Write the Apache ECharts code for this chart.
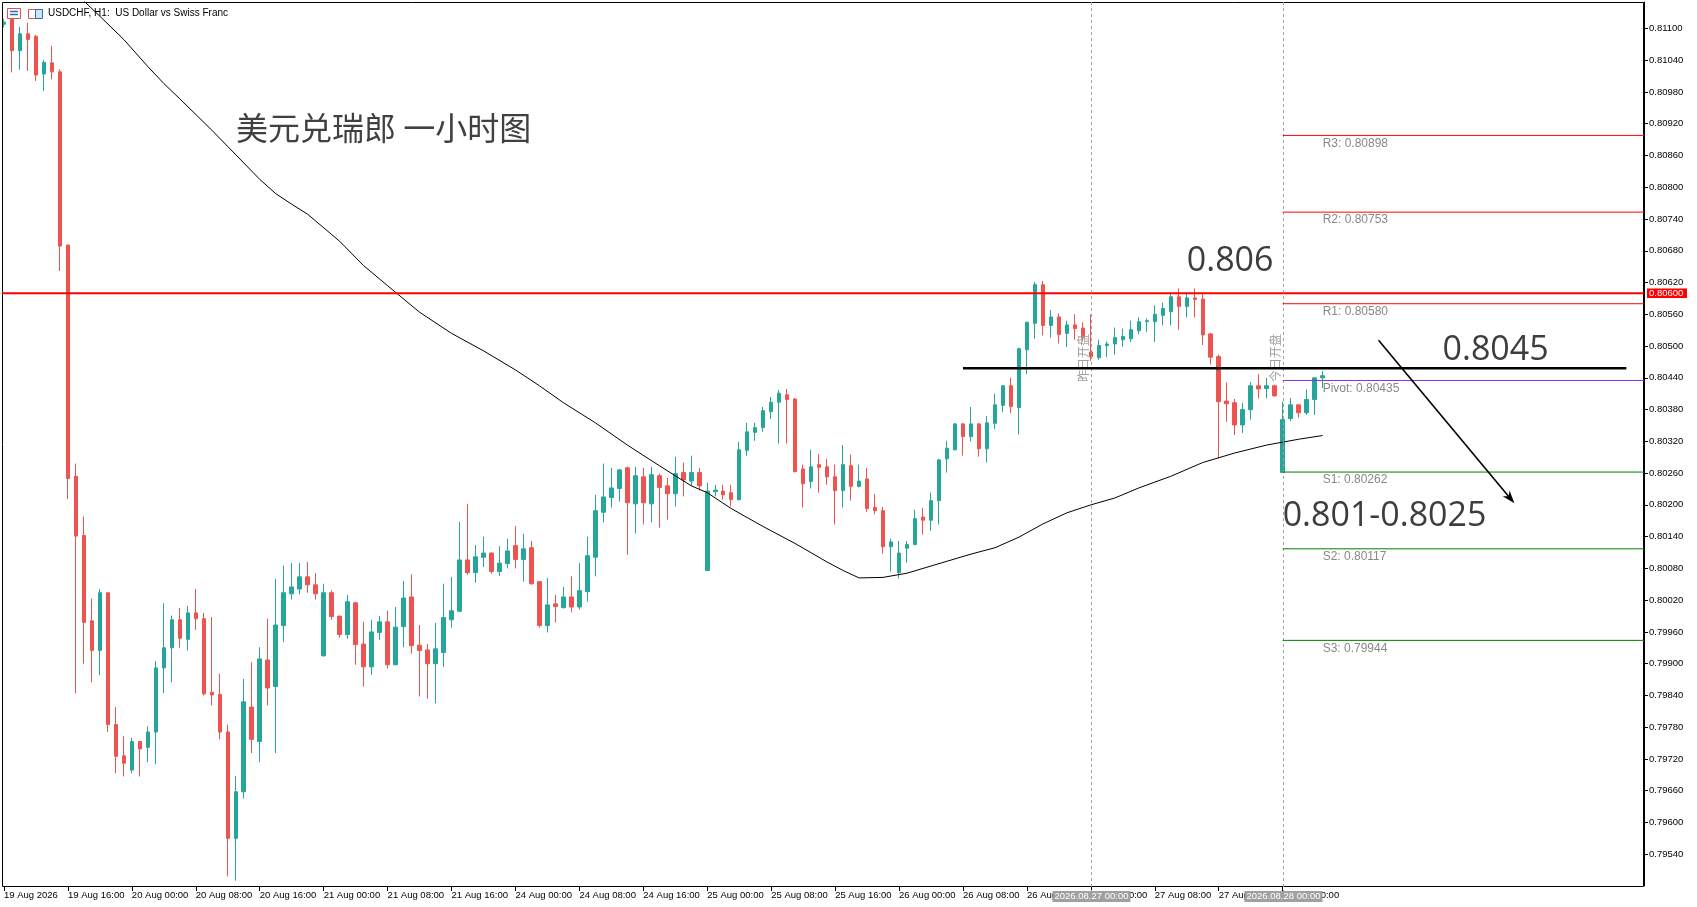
<!DOCTYPE html>
<html><head><meta charset="utf-8">
<script src="https://cdn.jsdelivr.net/npm/echarts@6/dist/echarts.min.js"></script>
<style>html,body{margin:0;padding:0;background:#fff;overflow:hidden}#c{width:1697px;height:907px}</style>
</head><body><div id="c"></div><script>
// ---------- DATA ----------
const symbolTitle = 'USDCHF, H1:  US Dollar vs Swiss Franc';
const chartTitle = '美元兑瑞郎 一小时图';
const opens = [0.81108,0.81117,0.81058,0.81090,0.81085,0.81014,0.81035,0.81018,0.80691,0.80254,
0.80142,0.79981,0.79925,0.80034,0.79785,0.79726,0.79699,0.79753,0.79742,0.79771,
0.79892,0.79930,0.79983,0.79946,0.79996,0.79985,0.79846,0.79842,0.79771,0.79570,
0.79658,0.79818,0.79753,0.79907,0.79857,0.79972,0.80032,0.80041,0.80064,0.80049,
0.79915,0.80034,0.79990,0.79955,0.80015,0.79937,0.79894,0.79959,0.79979,0.79898,
0.79970,0.80026,0.79935,0.79926,0.79900,0.79921,0.79983,0.79999,0.80096,0.80072,
0.80101,0.80109,0.80074,0.80089,0.80123,0.80097,0.80119,0.80055,0.79972,0.80013,
0.80006,0.80026,0.80007,0.80036,0.80101,0.80186,0.80214,0.80231,0.80270,0.80202,
0.80253,0.80202,0.80255,0.80236,0.80221,0.80261,0.80245,0.80261,0.80076,0.80225,
0.80226,0.80223,0.80210,0.80303,0.80337,0.80346,0.80376,0.80394,0.80408,0.80400,
0.80268,0.80244,0.80276,0.80272,0.80253,0.80227,0.80274,0.80235,0.80249,0.80195,
0.80189,0.80121,0.80072,0.80118,0.80125,0.80177,0.80171,0.80208,0.80287,0.80304,
0.80353,0.80329,0.80353,0.80306,0.80354,0.80388,0.80425,0.80384,0.80493,0.80543,
0.80616,0.80539,0.80555,0.80524,0.80540,0.80534,0.80489,0.80478,0.80501,0.80504,
0.80512,0.80514,0.80529,0.80546,0.80546,0.80558,0.80565,0.80593,0.80575,0.80591,
0.80589,0.80523,0.80480,0.80396,0.80393,0.80351,0.80380,0.80425,0.80420,0.80425,
0.80261,0.80363,0.80389,0.80374,0.80399,0.80440];
const closes = [0.81112,0.81058,0.81090,0.81079,0.81012,0.81036,0.81018,0.80689,0.80250,0.80141,
0.79978,0.79925,0.80034,0.79785,0.79725,0.79712,0.79753,0.79739,0.79771,0.79892,
0.79930,0.79983,0.79948,0.79996,0.79985,0.79843,0.79841,0.79771,0.79570,0.79658,
0.79828,0.79757,0.79909,0.79854,0.79973,0.80034,0.80045,0.80064,0.80049,0.80032,
0.80034,0.79989,0.79955,0.80017,0.79936,0.79894,0.79960,0.79979,0.79898,0.79969,
0.80024,0.79934,0.79925,0.79900,0.79928,0.79987,0.80000,0.80096,0.80072,0.80102,
0.80109,0.80074,0.80090,0.80113,0.80097,0.80117,0.80051,0.79972,0.80011,0.80008,
0.80026,0.80007,0.80038,0.80104,0.80189,0.80215,0.80232,0.80266,0.80204,0.80255,
0.80204,0.80257,0.80233,0.80221,0.80259,0.80247,0.80261,0.80236,0.80226,0.80228,
0.80219,0.80210,0.80304,0.80338,0.80346,0.80378,0.80394,0.80411,0.80399,0.80263,
0.80240,0.80272,0.80271,0.80253,0.80227,0.80276,0.80235,0.80245,0.80193,0.80189,
0.80121,0.80130,0.80109,0.80125,0.80174,0.80171,0.80208,0.80285,0.80307,0.80353,
0.80329,0.80353,0.80306,0.80355,0.80389,0.80425,0.80386,0.80495,0.80545,0.80616,
0.80539,0.80555,0.80522,0.80540,0.80533,0.80516,0.80480,0.80501,0.80504,0.80516,
0.80518,0.80531,0.80546,0.80548,0.80560,0.80571,0.80593,0.80575,0.80591,0.80588,
0.80521,0.80479,0.80395,0.80391,0.80351,0.80380,0.80425,0.80419,0.80425,0.80406,
0.80361,0.80389,0.80374,0.80399,0.80440,0.80444];
const lows = [0.81102,0.81017,0.81022,0.81020,0.81001,0.80982,0.81004,0.80642,0.80211,0.79844,
0.79900,0.79865,0.79878,0.79771,0.79693,0.79687,0.79693,0.79687,0.79714,0.79710,
0.79844,0.79865,0.79930,0.79925,0.79964,0.79840,0.79821,0.79757,0.79498,0.79490,
0.79645,0.79731,0.79714,0.79821,0.79731,0.79941,0.80021,0.80031,0.80034,0.80021,
0.79913,0.79983,0.79949,0.79947,0.79898,0.79857,0.79879,0.79945,0.79891,0.79897,
0.79931,0.79919,0.79838,0.79834,0.79825,0.79894,0.79968,0.79998,0.80068,0.80053,
0.80083,0.80070,0.80066,0.80080,0.80080,0.80055,0.80049,0.79968,0.79959,0.79978,
0.80004,0.79997,0.80002,0.80017,0.80065,0.80167,0.80195,0.80206,0.80106,0.80146,
0.80163,0.80167,0.80157,0.80172,0.80197,0.80216,0.80236,0.80227,0.80075,0.80216,
0.80210,0.80197,0.80208,0.80293,0.80321,0.80338,0.80362,0.80316,0.80316,0.80261,
0.80195,0.80231,0.80223,0.80238,0.80163,0.80195,0.80208,0.80233,0.80187,0.80182,
0.80108,0.80074,0.80061,0.80091,0.80124,0.80144,0.80151,0.80163,0.80261,0.80303,
0.80293,0.80320,0.80291,0.80280,0.80343,0.80375,0.80373,0.80333,0.80447,0.80514,
0.80520,0.80516,0.80505,0.80498,0.80512,0.80509,0.80472,0.80474,0.80479,0.80484,
0.80499,0.80508,0.80523,0.80527,0.80508,0.80539,0.80539,0.80531,0.80554,0.80554,
0.80502,0.80465,0.80288,0.80357,0.80332,0.80336,0.80361,0.80401,0.80401,0.80404,
0.80260,0.80358,0.80365,0.80370,0.80370,0.80421];
const highs = [0.81118,0.81118,0.81103,0.81111,0.81088,0.81040,0.81067,0.81023,0.80691,0.80278,
0.80178,0.80023,0.80041,0.80034,0.79818,0.79763,0.79760,0.79753,0.79782,0.79905,
0.80014,0.79991,0.80005,0.80009,0.80041,0.79996,0.79988,0.79881,0.79785,0.79688,
0.79871,0.79903,0.79931,0.79985,0.80060,0.80085,0.80090,0.80090,0.80092,0.80071,
0.80051,0.80039,0.79990,0.80030,0.80017,0.79979,0.79983,0.79990,0.80000,0.80007,
0.80056,0.80069,0.79973,0.79937,0.79977,0.80051,0.80064,0.80168,0.80202,0.80124,
0.80140,0.80110,0.80122,0.80136,0.80160,0.80145,0.80132,0.80056,0.80062,0.80030,
0.80045,0.80065,0.80090,0.80140,0.80219,0.80278,0.80270,0.80268,0.80272,0.80272,
0.80270,0.80272,0.80259,0.80251,0.80291,0.80280,0.80293,0.80270,0.80242,0.80238,
0.80238,0.80238,0.80319,0.80355,0.80355,0.80385,0.80404,0.80417,0.80419,0.80402,
0.80276,0.80304,0.80296,0.80287,0.80276,0.80313,0.80295,0.80276,0.80270,0.80221,
0.80196,0.80136,0.80132,0.80132,0.80191,0.80194,0.80223,0.80287,0.80321,0.80355,
0.80355,0.80385,0.80355,0.80368,0.80410,0.80426,0.80440,0.80497,0.80546,0.80621,
0.80623,0.80568,0.80562,0.80548,0.80560,0.80545,0.80560,0.80512,0.80509,0.80535,
0.80533,0.80548,0.80554,0.80552,0.80577,0.80582,0.80600,0.80609,0.80600,0.80609,
0.80600,0.80525,0.80484,0.80431,0.80400,0.80393,0.80432,0.80447,0.80440,0.80427,
0.80395,0.80402,0.80389,0.80418,0.80440,0.80453];
// moving average, read at these bar indices
const maIndex = [9,10,12,15,18,20,22,26,28,32,34,36,38,42,45,48,52,56,60,64,67,70,74,78,82,86,88,91,95,99,103,105,107,110,113,117,121,124,127,130,133,136,139,142,146,150,154,158,162,165];
const maValue = [0.81168,0.81152,0.81123,0.81079,0.81028,0.80996,0.80967,0.80908,0.80877,0.80815,0.80788,0.80768,0.80749,0.80698,0.80652,0.80614,0.80564,0.80524,0.80491,0.80455,0.80425,0.80393,0.80355,0.80313,0.80274,0.80236,0.80223,0.80193,0.80159,0.80127,0.80092,0.80076,0.80062,0.80063,0.80071,0.80089,0.80107,0.80119,0.80139,0.80164,0.80185,0.80200,0.80213,0.80232,0.80254,0.80280,0.80298,0.80313,0.80324,0.80331];
const pivotNames = ['R3','R2','R1','Pivot','S1','S2','S3'];
const pivotValues = [0.80898,0.80753,0.80580,0.80435,0.80262,0.80117,0.79944];
const pivotColors = ['#ff0000','#ff0000','#ff0000','#8a2be2','#008000','#008000','#008000'];
const yTicks = [0.79540,0.79600,0.79660,0.79720,0.79780,0.79840,0.79900,0.79960,0.80020,0.80080,0.80140,0.80200,0.80260,0.80320,0.80380,0.80440,0.80500,0.80560,0.80620,0.80680,0.80740,0.80800,0.80860,0.80920,0.80980,0.81040,0.81100];
const xTickLabels = ['19 Aug 2026','19 Aug 16:00','20 Aug 00:00','20 Aug 08:00','20 Aug 16:00','21 Aug 00:00','21 Aug 08:00','21 Aug 16:00','24 Aug 00:00','24 Aug 08:00','24 Aug 16:00','25 Aug 00:00','25 Aug 08:00','25 Aug 16:00','26 Aug 00:00','26 Aug 08:00','26 Aug 16:00','27 Aug 00:00','27 Aug 08:00','27 Aug 16:00','28 Aug 00:00'];
const sessionBars = [136, 160];
const sessionNames = ['昨日开盘', '今日开盘'];
const sessionStamps = ['2026.08.27 00:00', '2026.08.28 00:00'];
const resistanceLevel = 0.80600;
const keyLevel = 0.80458, keyLevelFrom = 120, keyLevelTo = 203;
const arrowFrom = [172, 0.80511], arrowTo = [189, 0.80203];
const notes = [{text:'0.806', bar:148, price:0.80661},{text:'0.8045', bar:180, price:0.80492},{text:'0.801-0.8025', bar:160, price:0.80179}];

// ---------- LAYOUT ----------
const TICK_STEP = 8;
const SLOTS = 205;
const FR = {l:2, t:2, r:1644, b:886};
const slots = Array.from({length:SLOTS}, (_, i) => i);
const candleData = opens.map((o, i) => [o, closes[i], lows[i], highs[i]]);
const maData = maIndex.map((k, i) => [k, maValue[i]]);
const isTick = (i) => i % TICK_STEP === 0 && i / TICK_STEP < xTickLabels.length;
const smallFont = '"Liberation Sans", Arial, sans-serif';

const chart = echarts.init(document.getElementById('c'));
chart.setOption({
  animation: false,
  backgroundColor: '#ffffff',
  grid: {left: -1.7, right: 58.7, top: 2, bottom: 21, containLabel: false},
  xAxis: {
    type: 'category', data: slots, boundaryGap: true,
    axisLine: {show: false},
    axisTick: {show: true, alignWithLabel: true, interval: isTick, length: 5, lineStyle: {color: '#000'}},
    axisLabel: {interval: isTick, formatter: (v, i) => isTick(i) ? xTickLabels[i / TICK_STEP] : '',
      align: 'left', fontSize: 9.5, fontFamily: smallFont, color: '#000', margin: 4},
    splitLine: {show: false}
  },
  yAxis: {
    type: 'value', position: 'right', offset: 5.7, min: 0.7948, max: 0.8115,
    axisLine: {show: true, lineStyle: {color: '#000', width: 1}},
    axisTick: {show: true, customValues: yTicks, length: 4, lineStyle: {color: '#000'}},
    axisLabel: {customValues: yTicks, formatter: v => v.toFixed(5), fontSize: 9.5, fontFamily: smallFont, color: '#000', margin: 5},
    splitLine: {show: false}
  },
  series: [
    {type: 'candlestick', data: candleData, barWidth: 4, z: 2,
     itemStyle: {color: '#26a69a', color0: '#ef5350', borderColor: '#26a69a', borderColor0: '#ef5350', borderWidth: 1}},
    {type: 'line', data: maData, showSymbol: false, symbol: 'none', z: 5, clip: true,
     lineStyle: {color: '#000', width: 1}}
  ]
});

const px = (k, v) => chart.convertToPixel({xAxisIndex: 0, yAxisIndex: 0}, [k, v]);
const g = [];
const Z = 100;
// frame
g.push({type:'rect', z:Z, silent:true, shape:{x:FR.l+0.5, y:FR.t+0.5, width:FR.r-FR.l-1, height:FR.b-FR.t}, style:{fill:'transparent', stroke:'#000', lineWidth:1}});
// symbol title + icons
g.push({type:'rect', z:Z, shape:{x:7.5, y:8.5, width:13, height:10}, style:{fill:'#fff', stroke:'#d9534f', lineWidth:1}});
[11.5,14.5].forEach(yy => g.push({type:'line', z:Z, shape:{x1:10, y1:yy, x2:18, y2:yy}, style:{stroke:'#2a6ebb', lineWidth:1.5}}));
g.push({type:'rect', z:Z, shape:{x:28.5, y:9.5, width:7, height:9}, style:{fill:'#fff', stroke:'#d9534f', lineWidth:1}});
g.push({type:'rect', z:Z, shape:{x:35.5, y:9.5, width:7, height:9}, style:{fill:'#cfe3f5', stroke:'#2a6ebb', lineWidth:1}});
g.push({type:'text', z:Z, style:{text:symbolTitle, x:48, y:13, font:'10px ' + smallFont, fill:'#000', verticalAlign:'middle'}});
// chinese title
g.push({type:'text', z:Z, style:{text:chartTitle, x:236, y:128, font:'32px "Noto Sans CJK SC"', fill:'#404040', verticalAlign:'middle'}});
// resistance line
{
  const y = px(0, resistanceLevel)[1];
  g.push({type:'line', z:Z, shape:{x1:FR.l, y1:y, x2:FR.r, y2:y}, style:{stroke:'#ff0000', lineWidth:2}});
  g.push({type:'rect', z:Z+1, shape:{x:FR.r+3, y:y-4.7, width:40, height:9.5}, style:{fill:'#ff0000'}});
  g.push({type:'text', z:Z+2, style:{text:resistanceLevel.toFixed(5), x:FR.r+5, y:y+0.3, font:'9.5px ' + smallFont, fill:'#fff', verticalAlign:'middle'}});
}
// session vertical dashed lines
sessionBars.forEach((k, i) => {
  const x = Math.round(px(k, keyLevel)[0]) + 0.5;
  g.push({type:'line', z:Z, shape:{x1:x, y1:FR.t, x2:x, y2:891}, style:{stroke:'#a0a0a0', lineWidth:1, lineDash:[3,3]}});
  g.push({type:'text', z:Z, x:x-8, y:382, rotation:Math.PI/2, style:{text:sessionNames[i], x:0, y:0, font:'12px "Noto Sans CJK SC"', fill:'#a0a0a0', align:'left', verticalAlign:'middle'}});
  g.push({type:'rect', z:Z+5, shape:{x:x-39, y:891, width:78, height:11}, style:{fill:'#a0a0a0'}});
  g.push({type:'text', z:Z+6, style:{text:sessionStamps[i], x:x, y:896.5, font:'9.5px ' + smallFont, fill:'#fff', align:'center', verticalAlign:'middle'}});
});
// pivot lines
pivotValues.forEach((v, i) => {
  const [x0, y] = px(sessionBars[1], v);
  const xl = px(opens.length - 1, v)[0];
  g.push({type:'line', z:Z, shape:{x1:x0, y1:y, x2:FR.r, y2:y}, style:{stroke:pivotColors[i], lineWidth:1}});
  g.push({type:'text', z:Z, style:{text:pivotNames[i] + ': ' + v.toFixed(5), x:xl, y:y+2, font:'12px ' + smallFont, fill:'#888', verticalAlign:'top'}});
});
// key level line
{
  const [x1, y] = px(keyLevelFrom, keyLevel);
  const x2 = px(keyLevelTo, keyLevel)[0];
  g.push({type:'line', z:Z, shape:{x1, y1:y, x2, y2:y}, style:{stroke:'#000', lineWidth:2.5}});
}
// arrow
{
  const p1 = px(arrowFrom[0], arrowFrom[1]), p2 = px(arrowTo[0], arrowTo[1]);
  const dx = p2[0]-p1[0], dy = p2[1]-p1[1], L = Math.hypot(dx, dy);
  const ux = dx/L, uy = dy/L, nx = -uy, ny = ux;
  g.push({type:'line', z:Z, shape:{x1:p1[0], y1:p1[1], x2:p2[0]-ux*6, y2:p2[1]-uy*6}, style:{stroke:'#000', lineWidth:1.6}});
  g.push({type:'polygon', z:Z, shape:{points:[[p2[0], p2[1]], [p2[0]-ux*13+nx*4.5, p2[1]-uy*13+ny*4.5], [p2[0]-ux*9, p2[1]-uy*9], [p2[0]-ux*13-nx*4.5, p2[1]-uy*13-ny*4.5]]}, style:{fill:'#000'}});
}
// big notes
notes.forEach(n => {
  const [x, y] = px(n.bar, n.price);
  g.push({type:'text', z:Z, style:{text:n.text, x:x, y:y, font:'34px "Open Sans"', fill:'#3d3d3d', verticalAlign:'middle'}});
});
chart.setOption({graphic: {elements: g}});
</script></body></html>
